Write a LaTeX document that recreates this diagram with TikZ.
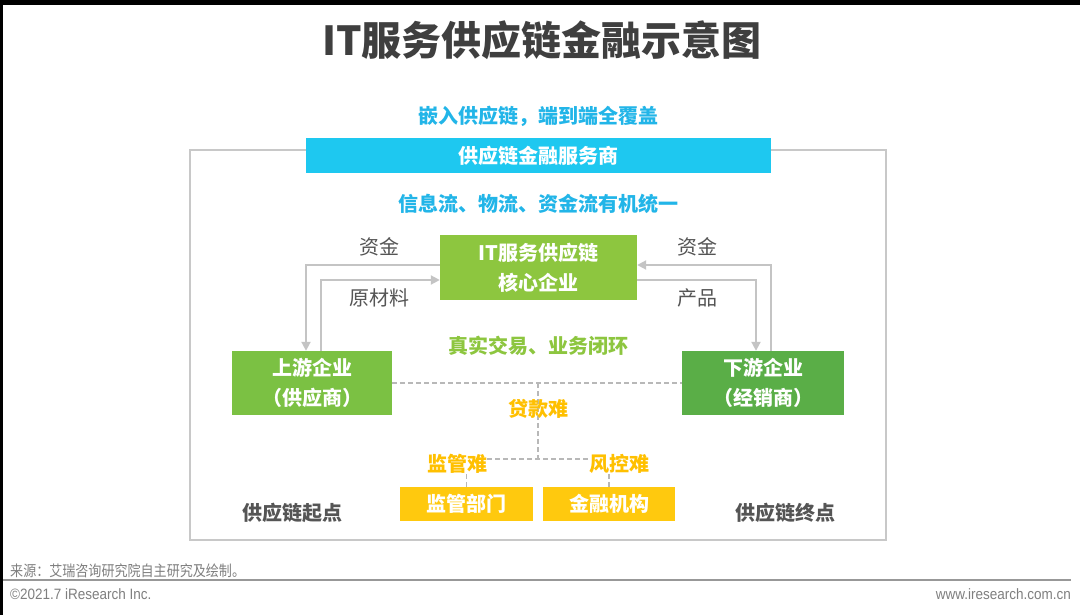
\documentclass[tikz,border=0pt]{standalone}
\usepackage{fontspec}
\setmainfont{Noto Sans CJK SC}
\newfontfamily\cjk{Noto Sans CJK SC}
\newfontfamily\footcjk[FakeStretch=0.87]{Noto Sans CJK SC}
\newfontfamily\footlat[FakeStretch=0.9]{Liberation Sans}
\usetikzlibrary{arrows.meta}
\definecolor{cyanbar}{HTML}{1EC8F0}
\definecolor{bluetxt}{HTML}{22B5E8}
\definecolor{coreg}{HTML}{8DC63F}
\definecolor{upg}{HTML}{7BC143}
\definecolor{downg}{HTML}{5AAE47}
\definecolor{ybox}{HTML}{FFC90E}
\definecolor{ytxt}{HTML}{FFC000}
\definecolor{framegray}{HTML}{C8C8C8}
\definecolor{arrowgray}{HTML}{C4C4C4}
\definecolor{dashgray}{HTML}{B8B8B8}
\definecolor{labelgray}{HTML}{555555}
\definecolor{titlegray}{HTML}{3F3F3F}
\definecolor{footgray}{HTML}{7F7F7F}
\tikzset{
  box/.style={draw=none, inner sep=0pt, align=center, text=white,
    font=\cjk\bfseries\fontsize{20}{30}\selectfont},
  lbl/.style={inner sep=0pt, font=\cjk\fontsize{20}{24}\selectfont, text=labelgray},
  blbl/.style={inner sep=0pt, font=\cjk\bfseries\fontsize{20}{24}\selectfont},
  conn/.style={draw=arrowgray, line width=2pt, -{Triangle[length=9pt,width=9pt]}},
  dline/.style={draw=dashgray, line width=1.3pt, dash pattern=on 5pt off 3pt},
}
\begin{document}
\begin{tikzpicture}[x=1pt,y=-1pt]
\useasboundingbox (0,0) rectangle (1080,615);
\fill[white] (0,0) rectangle (1080,615);
\fill[black] (0,0) rectangle (1080,5);
\fill[black] (0,0) rectangle (2.5,615);

% title
\node[inner sep=0pt, font=\cjk\bfseries\fontsize{40}{42}\selectfont, text=titlegray] (title) at (542,40) {IT服务供应链金融示意图};

% frame
\draw[framegray, line width=2pt] (190,150) rectangle (886,540);

% blue header
\node[blbl, text=bluetxt] (embed) at (538,116) {嵌入供应链，端到端全覆盖};
\node[box, fill=cyanbar, minimum width=465pt, minimum height=35pt, font=\cjk\bfseries\fontsize{20}{24}\selectfont] (svc) at (538.5,155.5) {供应链金融服务商};
\node[blbl, text=bluetxt] (flow) at (538,204) {信息流、物流、资金流有机统一};

% green boxes
\node[box, fill=coreg, minimum width=197pt, minimum height=65pt] (core) at (538.5,267.5) {IT服务供应链\\核心企业};
\node[box, fill=upg, minimum width=160pt, minimum height=64pt] (up) at (312,383) {上游企业\\（供应商）};
\node[box, fill=downg, minimum width=162pt, minimum height=64pt] (down) at (763,383) {下游企业\\（经销商）};

% connectors
\coordinate (aL) at (306,265);
\coordinate (bL) at (321,280);
\coordinate (aR) at (771,265);
\coordinate (bR) at (756,280);
\draw[conn] (core.west |- aL) -| (up.north -| aL);
\draw[conn] (up.north -| bL) |- (core.west |- bL);
\draw[conn] (down.north -| aR) |- (core.east |- aR);
\draw[conn] (core.east |- bR) -| (down.north -| bR);

\node[lbl] (zjL) at (379,247) {资金};
\node[lbl] (ycl) at (379,298) {原材料};
\node[lbl] (zjR) at (697,247) {资金};
\node[lbl] (cp) at (697,298) {产品};

\node[blbl, text=coreg] (real) at (538,346) {真实交易、业务闭环};

% yellow boxes
\node[box, fill=ybox, minimum width=133pt, minimum height=34pt] (jgbm) at (466.5,504) {监管部门};
\node[box, fill=ybox, minimum width=132pt, minimum height=34pt] (jrjg) at (609,504) {金融机构};

\node[blbl, text=ytxt] (jg) at (457,464) {监管难};
\node[blbl, text=ytxt] (fk) at (619,464) {风控难};

% dashed lines
\coordinate (j1) at (538,383);
\coordinate (j2) at (538,459);
\draw[dline] (up.east) -- (down.west);
\draw[dline] (j1) -- (j2);
\draw[dline] (jg.east |- j2) -- (fk.west |- j2);
\draw[dline] (jgbm.north) -- (jgbm.north |- jg.south);
\draw[dline] (jrjg.north) -- (jrjg.north |- fk.south);

\node[blbl, text=ytxt] (dk) at (538,409) {贷款难};

\node[blbl, text=labelgray] (start) at (292,513) {供应链起点};
\node[blbl, text=labelgray] (end) at (785,513) {供应链终点};

% footer
\node[anchor=west, inner sep=0pt, font=\footcjk\fontsize{15}{17}\selectfont, text=footgray] (src) at (10,571) {来源：艾瑞咨询研究院自主研究及绘制。};
\draw[footgray!80, line width=1.5pt] (3,580) -- (1071,580);
\node[anchor=west, inner sep=0pt, font=\footlat\fontsize{15}{17}\selectfont, text=footgray] (copy) at (10,594) {©2021.7 iResearch Inc.};
\node[anchor=east, inner sep=0pt, font=\footlat\fontsize{15}{17}\selectfont, text=footgray] (www) at (1071,594) {www.iresearch.com.cn};
\end{tikzpicture}
\end{document}
